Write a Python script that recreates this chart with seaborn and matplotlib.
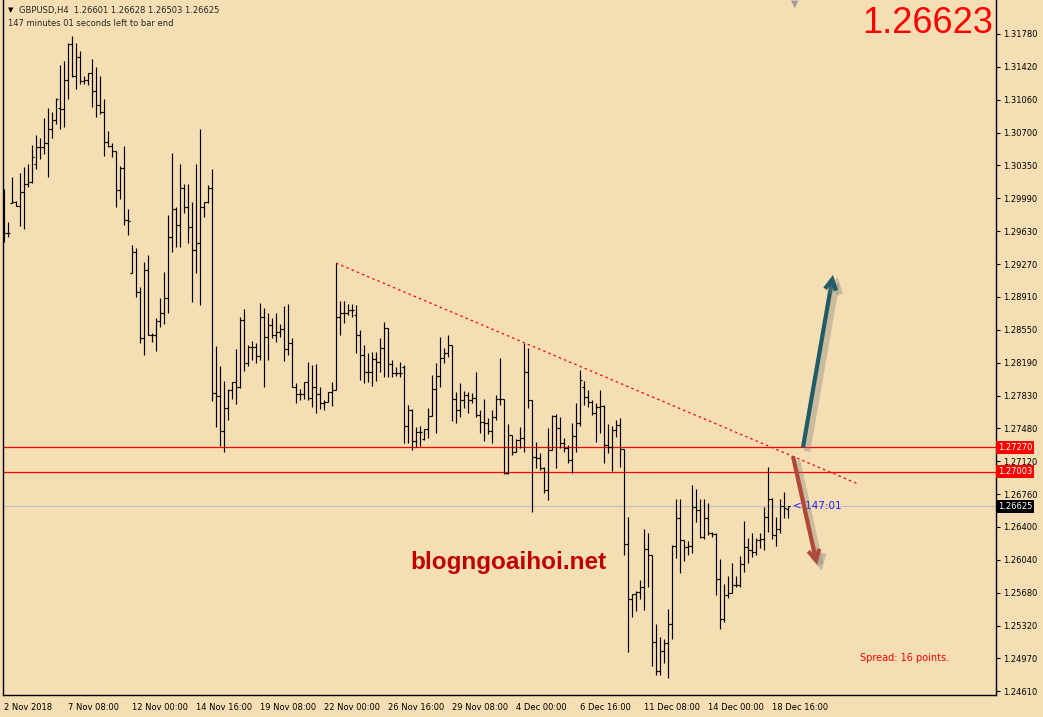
import numpy as np
import pandas as pd
import matplotlib
matplotlib.use("Agg")
import matplotlib.pyplot as plt
import seaborn as sns
from matplotlib import patheffects as pe
from matplotlib.transforms import blended_transform_factory

# GBPUSD H4 bars (2 Nov 16:00 .. 19 Dec 08:00)
opens = [
    1.2958, 1.2961, 1.2994, 1.2995, 1.2990, 1.3006, 1.3014, 1.3016, 1.3036, 1.3055,
    1.3055, 1.3059, 1.3074, 1.3084, 1.3097, 1.3096, 1.3128, 1.3167, 1.3132, 1.3153,
    1.3127, 1.3128, 1.3135, 1.3116, 1.3101, 1.3093, 1.3060, 1.3056, 1.3050, 1.3008,
    1.3032, 1.2975, 1.2917, 1.2940, 1.2896, 1.2846, 1.2920, 1.2850, 1.2850, 1.2865,
    1.2874, 1.2890, 1.2956, 1.2987, 1.2970, 1.3010, 1.2989, 1.2967, 1.2942, 1.2950,
    1.2989, 1.2995, 1.3010, 1.2786, 1.2783, 1.2745, 1.2770, 1.2789, 1.2798, 1.2793,
    1.2866, 1.2819, 1.2836, 1.2836, 1.2827, 1.2869, 1.2847, 1.2860, 1.2850, 1.2853,
    1.2856, 1.2834, 1.2841, 1.2793, 1.2785, 1.2785, 1.2798, 1.2781, 1.2793, 1.2785,
    1.2775, 1.2776, 1.2787, 1.2789, 1.2869, 1.2874, 1.2874, 1.2877, 1.2871, 1.2850,
    1.2828, 1.2809, 1.2809, 1.2823, 1.2820, 1.2835, 1.2857, 1.2818, 1.2808, 1.2808,
    1.2815, 1.2750, 1.2768, 1.2734, 1.2744, 1.2736, 1.2747, 1.2761, 1.2791, 1.2805,
    1.2824, 1.2830, 1.2839, 1.2780, 1.2768, 1.2779, 1.2784, 1.2779, 1.2781, 1.2762,
    1.2755, 1.2753, 1.2745, 1.2760, 1.2780, 1.2780, 1.2699, 1.2740, 1.2722, 1.2735,
    1.2737, 1.2809, 1.2779, 1.2716, 1.2715, 1.2704, 1.2680, 1.2724, 1.2761, 1.2748,
    1.2732, 1.2726, 1.2713, 1.2739, 1.2753, 1.2793, 1.2782, 1.2776, 1.2764, 1.2771,
    1.2772, 1.2729, 1.2727, 1.2746, 1.2751, 1.2725, 1.2621, 1.2561, 1.2567, 1.2569,
    1.2575, 1.2616, 1.2609, 1.2514, 1.2483, 1.2505, 1.2513, 1.2534, 1.2619, 1.2650,
    1.2626, 1.2618, 1.2619, 1.2662, 1.2659, 1.2629, 1.2650, 1.2633, 1.2632, 1.2583,
    1.2540, 1.2566, 1.2568, 1.2577, 1.2577, 1.2600, 1.2618, 1.2615, 1.2613, 1.2626,
    1.2627, 1.2651, 1.2671, 1.2631, 1.2638, 1.2663, 1.26601,
]
highs = [
    1.3009, 1.2973, 1.3022, 1.2996, 1.3026, 1.3033, 1.3036, 1.3057, 1.3068, 1.3065,
    1.3086, 1.3097, 1.3093, 1.3108, 1.3144, 1.3149, 1.3168, 1.3176, 1.3168, 1.3159,
    1.3132, 1.3135, 1.3151, 1.3142, 1.3132, 1.3107, 1.3072, 1.3059, 1.3050, 1.3034,
    1.3056, 1.2987, 1.2948, 1.2944, 1.2902, 1.2929, 1.2937, 1.2852, 1.2868, 1.2890,
    1.2918, 1.2980, 1.3048, 1.2989, 1.3036, 1.3014, 1.3014, 1.2995, 1.3036, 1.3074,
    1.2995, 1.3013, 1.3031, 1.2838, 1.2816, 1.2799, 1.2791, 1.2798, 1.2834, 1.2869,
    1.2878, 1.2839, 1.2843, 1.2841, 1.2884, 1.2879, 1.2874, 1.2868, 1.2874, 1.2862,
    1.2881, 1.2883, 1.2846, 1.2797, 1.2791, 1.2798, 1.2820, 1.2817, 1.2818, 1.2793,
    1.2779, 1.2787, 1.2798, 1.2928, 1.2887, 1.2887, 1.2883, 1.2883, 1.2882, 1.2855,
    1.2839, 1.2830, 1.2831, 1.2831, 1.2846, 1.2864, 1.2857, 1.2822, 1.2815, 1.2820,
    1.2817, 1.2773, 1.2769, 1.2749, 1.2750, 1.2747, 1.2770, 1.2806, 1.2819, 1.2847,
    1.2835, 1.2850, 1.2839, 1.2787, 1.2797, 1.2788, 1.2787, 1.2786, 1.2809, 1.2768,
    1.2780, 1.2759, 1.2768, 1.2784, 1.2824, 1.2780, 1.2752, 1.2740, 1.2736, 1.2749,
    1.2841, 1.2835, 1.2779, 1.2733, 1.2721, 1.2705, 1.2748, 1.2762, 1.2763, 1.2760,
    1.2737, 1.2729, 1.2753, 1.2775, 1.2811, 1.2799, 1.2789, 1.2779, 1.2775, 1.2789,
    1.2773, 1.2752, 1.2750, 1.2757, 1.2759, 1.2725, 1.2651, 1.2567, 1.2570, 1.2582,
    1.2638, 1.2633, 1.2609, 1.2534, 1.2520, 1.2518, 1.2550, 1.2620, 1.2670, 1.2671,
    1.2626, 1.2625, 1.2686, 1.2681, 1.2671, 1.2670, 1.2666, 1.2634, 1.2633, 1.2605,
    1.2578, 1.2587, 1.2601, 1.2586, 1.2608, 1.2647, 1.2628, 1.2633, 1.2628, 1.2633,
    1.2662, 1.2705, 1.2672, 1.2651, 1.2670, 1.2678, 1.26628,
]
lows = [
    1.2951, 1.2956, 1.2994, 1.2990, 1.2968, 1.2965, 1.3011, 1.3015, 1.3031, 1.3042,
    1.3047, 1.3022, 1.3065, 1.3080, 1.3074, 1.3077, 1.3107, 1.3131, 1.3118, 1.3123,
    1.3123, 1.3122, 1.3098, 1.3087, 1.3091, 1.3045, 1.3055, 1.3044, 1.2989, 1.2998,
    1.2970, 1.2959, 1.2917, 1.2891, 1.2841, 1.2828, 1.2850, 1.2842, 1.2832, 1.2858,
    1.2862, 1.2874, 1.2940, 1.2946, 1.2946, 1.2983, 1.2950, 1.2886, 1.2917, 1.2882,
    1.2978, 1.2994, 1.2777, 1.2749, 1.2728, 1.2722, 1.2757, 1.2780, 1.2774, 1.2792,
    1.2810, 1.2816, 1.2822, 1.2819, 1.2822, 1.2793, 1.2822, 1.2846, 1.2842, 1.2847,
    1.2821, 1.2828, 1.2793, 1.2775, 1.2779, 1.2780, 1.2779, 1.2771, 1.2764, 1.2769,
    1.2768, 1.2776, 1.2772, 1.2789, 1.2850, 1.2863, 1.2871, 1.2869, 1.2830, 1.2800,
    1.2797, 1.2798, 1.2794, 1.2799, 1.2809, 1.2804, 1.2804, 1.2804, 1.2805, 1.2804,
    1.2732, 1.2732, 1.2724, 1.2727, 1.2728, 1.2735, 1.2737, 1.2761, 1.2743, 1.2793,
    1.2819, 1.2825, 1.2756, 1.2753, 1.2760, 1.2770, 1.2764, 1.2775, 1.2760, 1.2743,
    1.2734, 1.2741, 1.2732, 1.2757, 1.2773, 1.2698, 1.2698, 1.2719, 1.2722, 1.2726,
    1.2722, 1.2770, 1.2656, 1.2704, 1.2702, 1.2677, 1.2669, 1.2724, 1.2704, 1.2726,
    1.2722, 1.2710, 1.2699, 1.2722, 1.2750, 1.2773, 1.2771, 1.2762, 1.2733, 1.2743,
    1.2710, 1.2721, 1.2701, 1.2738, 1.2705, 1.2609, 1.2504, 1.2542, 1.2548, 1.2561,
    1.2549, 1.2575, 1.2488, 1.2478, 1.2478, 1.2492, 1.2475, 1.2518, 1.2606, 1.2590,
    1.2603, 1.2609, 1.2612, 1.2645, 1.2628, 1.2627, 1.2631, 1.2629, 1.2566, 1.2529,
    1.2536, 1.2563, 1.2568, 1.2575, 1.2575, 1.2591, 1.2601, 1.2607, 1.2609, 1.2617,
    1.2615, 1.2634, 1.2627, 1.2619, 1.2633, 1.2650, 1.26503,
]
closes = [
    1.2961, 1.2961, 1.2995, 1.2990, 1.3006, 1.3014, 1.3016, 1.3044, 1.3055, 1.3055,
    1.3059, 1.3074, 1.3084, 1.3107, 1.3096, 1.3128, 1.3167, 1.3132, 1.3153, 1.3127,
    1.3128, 1.3135, 1.3116, 1.3101, 1.3093, 1.3060, 1.3056, 1.3050, 1.3008, 1.3032,
    1.2975, 1.2974, 1.2940, 1.2896, 1.2846, 1.2920, 1.2850, 1.2850, 1.2865, 1.2874,
    1.2890, 1.2956, 1.2987, 1.2970, 1.3010, 1.2989, 1.2967, 1.2942, 1.2950, 1.2989,
    1.2995, 1.3010, 1.2786, 1.2783, 1.2745, 1.2770, 1.2789, 1.2798, 1.2793, 1.2866,
    1.2819, 1.2836, 1.2836, 1.2827, 1.2869, 1.2847, 1.2860, 1.2850, 1.2853, 1.2856,
    1.2834, 1.2841, 1.2793, 1.2785, 1.2785, 1.2798, 1.2781, 1.2793, 1.2785, 1.2775,
    1.2776, 1.2787, 1.2789, 1.2869, 1.2874, 1.2874, 1.2877, 1.2877, 1.2850, 1.2828,
    1.2809, 1.2809, 1.2823, 1.2820, 1.2835, 1.2857, 1.2818, 1.2808, 1.2808, 1.2808,
    1.2750, 1.2768, 1.2734, 1.2744, 1.2744, 1.2747, 1.2761, 1.2791, 1.2805, 1.2824,
    1.2830, 1.2839, 1.2780, 1.2768, 1.2779, 1.2784, 1.2779, 1.2781, 1.2762, 1.2755,
    1.2753, 1.2745, 1.2760, 1.2780, 1.2780, 1.2699, 1.2740, 1.2722, 1.2735, 1.2737,
    1.2809, 1.2779, 1.2716, 1.2715, 1.2704, 1.2680, 1.2724, 1.2761, 1.2748, 1.2732,
    1.2726, 1.2713, 1.2739, 1.2753, 1.2800, 1.2782, 1.2776, 1.2764, 1.2771, 1.2772,
    1.2729, 1.2727, 1.2746, 1.2751, 1.2725, 1.2621, 1.2561, 1.2567, 1.2569, 1.2575,
    1.2616, 1.2609, 1.2514, 1.2483, 1.2505, 1.2513, 1.2534, 1.2619, 1.2650, 1.2626,
    1.2618, 1.2619, 1.2662, 1.2659, 1.2629, 1.2650, 1.2633, 1.2632, 1.2583, 1.2540,
    1.2566, 1.2568, 1.2577, 1.2577, 1.2600, 1.2618, 1.2615, 1.2613, 1.2626, 1.2627,
    1.2651, 1.2671, 1.2631, 1.2638, 1.2663, 1.2661, 1.26625,
]

date_labels = ["2 Nov 2018", "7 Nov 08:00", "12 Nov 00:00", "14 Nov 16:00", "19 Nov 08:00",
               "22 Nov 00:00", "26 Nov 16:00", "29 Nov 08:00", "4 Dec 00:00", "6 Dec 16:00",
               "11 Dec 08:00", "14 Dec 00:00", "18 Dec 16:00"]
price_ticks = [1.31780, 1.31420, 1.31060, 1.30700, 1.30350, 1.29990, 1.29630, 1.29270,
               1.28910, 1.28550, 1.28190, 1.27830, 1.27480, 1.27120, 1.26760, 1.26400,
               1.26040, 1.25680, 1.25320, 1.24970, 1.24610]

resistance = 1.27270
support = 1.27003
bid = 1.26625
trend_x = [83, 213.5]
trend_y = [1.2928, 1.2687]
up_arrow = [(199.75, 1.2727), (207.25, 1.2915)]
down_arrow = [(197.25, 1.2717), (203.25, 1.2599)]

BG = "#f5deb3"
W, H = 1043, 717

sns.set_style("white")
plt.rcParams['font.family'] = ['DejaVu Sans']

df = pd.DataFrame({"open": opens, "high": highs, "low": lows, "close": closes})
df["bar"] = np.arange(len(df))

fig = plt.figure(figsize=(W / 100, H / 100), dpi=100, facecolor=BG)
ax = fig.add_axes([3 / W, 1 - 695 / H, 993 / W, 695 / H])
ax.set_facecolor(BG)

# level lines first so bars sit on top
ax.axhline(bid, color="#c0c0c0", lw=0.9, zorder=1)
ax.axhline(resistance, color="red", lw=0.9, zorder=1)
ax.axhline(support, color="red", lw=0.9, zorder=1)

# OHLC bars
ax.vlines(df.bar, df.low, df.high, color="black", lw=0.85, zorder=3)
ax.hlines(df.open, df.bar - 0.4, df.bar, color="black", lw=0.85, zorder=3)
ax.hlines(df.close, df.bar, df.bar + 0.4, color="black", lw=0.85, zorder=3)

# trend line
sns.lineplot(x=trend_x, y=trend_y, ax=ax, color="red", lw=0.9,
             linestyle=(0, (2, 2.5)), zorder=2)

# arrows with a soft shadow
for (start, end), col in [(up_arrow, "#1f5c66"), (down_arrow, "#b0483a")]:
    arr = ax.annotate("", xy=end, xytext=start,
                      arrowprops=dict(arrowstyle="->,head_length=0.75,head_width=0.4",
                                      color=col, lw=3, shrinkA=0, shrinkB=0,
                                      joinstyle="miter", capstyle="butt"), zorder=5)
    arr.arrow_patch.set_path_effects([pe.SimpleLineShadow(offset=(3, -3), shadow_color="#7a7a7a", alpha=0.35, linewidth=4.5),
                                      pe.Normal()])

ax.set_xlim(-0.25, 248)
ax.set_ylim(1.3178 - 661 * 0.00010913, 1.3178 + 34 * 0.00010913)

ax.set_xticks(df.bar[::16])
ax.set_xticklabels(date_labels, ha="left")
ax.yaxis.tick_right()
ax.set_yticks(price_ticks)
ax.set_yticklabels([f"{p:.5f}" for p in price_ticks])
ax.tick_params(axis="both", direction="out", length=3, width=0.8, labelsize=6, colors="black", pad=2)
ax.tick_params(axis="x", pad=3)
for s in ["left", "right", "bottom"]:
    ax.spines[s].set_color("black")
    ax.spines[s].set_linewidth(1.0)
ax.spines["top"].set_visible(False)

# coloured price tags on the price scale
tr = blended_transform_factory(ax.transAxes, ax.transData)
for val, face in [(resistance, "red"), (support, "red"), (bid, "black")]:
    ax.text(1.002, val, f"{val:.5f}", transform=tr, fontsize=6, color="white", va="center", ha="left",
            bbox=dict(facecolor=face, edgecolor="none", boxstyle="square,pad=0.25"), zorder=10, clip_on=False)

# texts
fig.text(8 / W, 1 - 10 / H, "\u25bc", fontsize=5, color="black", va="center")
fig.text(19 / W, 1 - 10 / H, "GBPUSD,H4  1.26601 1.26628 1.26503 1.26625", fontsize=6, va="center")
fig.text(8 / W, 1 - 23 / H, "147 minutes 01 seconds left to bar end", fontsize=6, va="center")
fig.text(993 / W, 1 - 33 / H, "1.26623", fontsize=26, color="red", ha="right", va="baseline",
         family=["Liberation Sans"])
fig.text(410 / W, 1 - 563 / H, "blogngoaihoi.net", fontsize=17.5, color="#c00000", fontweight="bold",
         va="center", family=["Liberation Sans"])
fig.text(860 / W, 1 - 658 / H, "Spread: 16 points.", fontsize=7, color="red", va="center")
ax.text(df.bar.iloc[-1] + 1.2, bid, "< 147:01", fontsize=7.5, color="#2020ff", va="center")
fig.text(795 / W, 1 - 4 / H, "\u25bc", fontsize=7, color="#a0a0a0", ha="center", va="center")

fig.savefig("out.png", dpi=100, facecolor=BG)
